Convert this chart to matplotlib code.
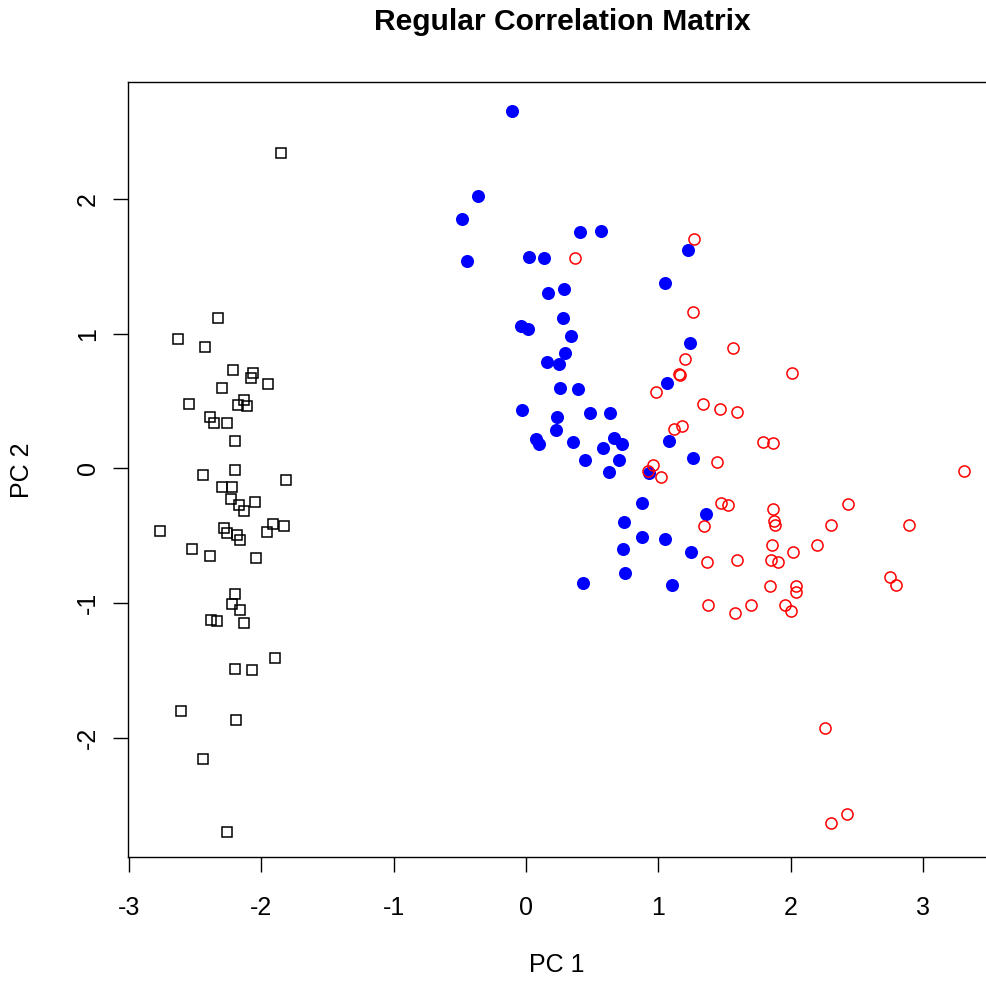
import numpy as np
import matplotlib.pyplot as plt

plt.rcParams['font.family'] = ['Liberation Sans', 'DejaVu Sans']

# PC scores, one group per species
setosa_pc1 = [-1.854, -2.330, -2.628, -2.426, -2.214, -2.063, -2.076, -1.947, -2.295, -2.547,
              -2.133, -2.176, -2.106, -2.388, -2.358, -2.259, -2.201, -2.199, -2.439, -1.814,
              -2.298, -2.222, -2.229, -2.167, -2.133, -2.048, -2.768, -2.282, -2.257, -2.186,
              -2.164, -1.910, -1.829, -1.959, -2.522, -2.386, -2.040, -2.201, -2.224, -2.161,
              -2.383, -2.337, -2.133, -1.894, -2.201, -2.071, -2.609, -2.194, -2.439, -2.257]
setosa_pc2 = [2.339, 1.115, 0.961, 0.901, 0.729, 0.711, 0.672, 0.625, 0.597, 0.479,
              0.506, 0.469, 0.464, 0.384, 0.340, 0.335, 0.204, -0.011, -0.050, -0.088,
              -0.135, -0.140, -0.226, -0.271, -0.315, -0.246, -0.462, -0.444, -0.481, -0.491,
              -0.531, -0.412, -0.427, -0.473, -0.595, -0.649, -0.664, -0.929, -1.003, -1.048,
              -1.124, -1.132, -1.147, -1.409, -1.490, -1.495, -1.800, -1.866, -2.156, -2.695]

versicolor_pc1 = [-0.108, -0.360, -0.484, 0.410, 0.565, -0.444, 0.025, 0.134, 0.169, 0.287,
                  0.282, 1.048, 1.226, -0.038, 0.017, 0.340, 0.292, 0.161, 0.247, 1.237,
                  1.066, 0.259, 0.391, -0.030, 0.232, 0.481, 0.635, 0.229, 0.073, 0.096,
                  0.353, 0.580, 0.665, 0.723, 1.078, 0.446, 0.705, 1.260, 0.627, 0.929,
                  0.877, 0.741, 0.879, 1.050, 0.735, 1.245, 0.750, 0.433, 1.106, 1.360]
versicolor_pc2 = [2.655, 2.020, 1.854, 1.755, 1.765, 1.542, 1.572, 1.562, 1.302, 1.330,
                  1.119, 1.379, 1.621, 1.058, 1.033, 0.986, 0.855, 0.790, 0.773, 0.934,
                  0.632, 0.595, 0.592, 0.436, 0.384, 0.414, 0.414, 0.286, 0.221, 0.180,
                  0.194, 0.154, 0.224, 0.184, 0.206, 0.061, 0.061, 0.076, -0.028, -0.031,
                  -0.254, -0.399, -0.511, -0.525, -0.600, -0.620, -0.778, -0.850, -0.867, -0.335]

virginica_pc1 = [0.370, 1.267, 1.262, 1.567, 1.205, 1.158, 1.164, 2.008, 0.980, 1.335,
                 1.468, 1.598, 1.116, 1.177, 1.789, 1.865, 1.442, 0.961, 0.923, 1.022,
                 1.470, 1.525, 1.347, 1.366, 1.592, 1.869, 1.872, 1.884, 1.861, 2.015,
                 2.199, 1.849, 1.904, 1.846, 2.042, 2.039, 1.373, 1.577, 1.703, 1.955,
                 1.999, 3.310, 2.436, 2.303, 2.898, 2.751, 2.798, 2.262, 2.428, 2.305]
virginica_pc2 = [1.562, 1.705, 1.161, 0.896, 0.810, 0.701, 0.694, 0.711, 0.571, 0.480,
                 0.442, 0.421, 0.291, 0.315, 0.193, 0.186, 0.046, 0.024, -0.020, -0.065,
                 -0.258, -0.273, -0.427, -0.696, -0.679, -0.298, -0.387, -0.422, -0.568, -0.617,
                 -0.565, -0.679, -0.694, -0.872, -0.871, -0.913, -1.015, -1.070, -1.015, -1.012,
                 -1.055, -0.021, -0.262, -0.423, -0.417, -0.803, -0.862, -1.928, -2.564, -2.633]

xticks = [-3, -2, -1, 0, 1, 2, 3]
yticks = [-2, -1, 0, 1, 2]

fig = plt.figure(figsize=(9.87, 9.84), dpi=100)
ax = fig.add_axes([128/987, 1 - 857/984, (987 - 128)/987, (857 - 82)/984])

ax.plot(setosa_pc1, setosa_pc2, "s", ms=7.6, mfc="none", mec="black", mew=1.1)
ax.plot(versicolor_pc1, versicolor_pc2, "o", ms=9.4, mfc="blue", mec="blue", mew=0)
ax.plot(virginica_pc1, virginica_pc2, "o", ms=8.0, mfc="none", mec="red", mew=1.1)

ax.set_xlim(-3.008, 3.484)
ax.set_ylim(-2.883, 2.868)
ax.set_xticks(xticks)
ax.set_yticks(yticks)
ax.set_xticklabels([str(v) for v in xticks], fontsize=18)
ax.set_yticklabels([str(v) for v in yticks], fontsize=18, rotation=90, va="center")
ax.tick_params(axis="x", length=11, width=1, pad=17)
ax.tick_params(axis="y", length=11, width=1, pad=9)
for s in ax.spines.values():
    s.set_linewidth(1)

fig.text(562/987, 1 - 22/984, "Regular Correlation Matrix", ha="center", va="center",
         fontsize=21.6, fontweight="bold")
fig.text(557/987, 1 - 965/984, "PC 1", ha="center", va="center", fontsize=18)
fig.text(22/987, 1 - 470/984, "PC 2", ha="center", va="center", fontsize=18, rotation=90)

fig.savefig("out.png", dpi=100)
